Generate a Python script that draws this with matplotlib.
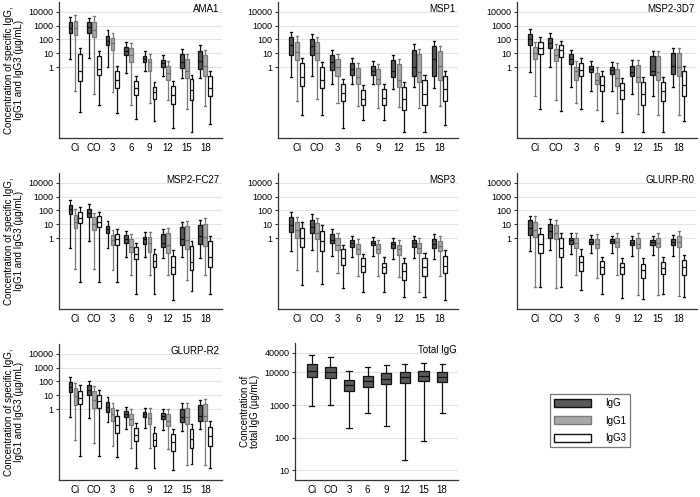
import numpy as np
import matplotlib.pyplot as plt
from matplotlib.patches import Patch
from matplotlib.ticker import FixedLocator, FixedFormatter, NullLocator

plt.rcParams['font.family'] = ['Liberation Sans', 'DejaVu Sans']
plt.rcParams['font.size'] = 6.5

groups = ['Ci', 'CO', '3', '6', '9', '12', '15', '18']

# values are log10(ug/mL): whisker low, Q1, median, Q3, whisker high (one row per group)
AMA1_IgG = [(0.61, 2.45, 2.82, 3.24, 3.63), (0.69, 2.45, 2.87, 3.24, 3.56),
            (0.05, 1.60, 1.91, 2.26, 2.65), (-0.42, 0.86, 1.18, 1.47, 1.84),
            (-0.29, 0.37, 0.61, 0.81, 1.18), (-0.61, 0.00, 0.32, 0.54, 0.91),
            (-0.79, -0.05, 0.37, 0.93, 1.28), (-0.79, -0.12, 0.44, 1.15, 1.60)]
AMA1_IgG1 = [(-1.72, 2.33, 2.82, 3.36, 3.73), (-1.91, 2.16, 2.70, 3.24, 3.68),
             (-1.77, 1.23, 1.72, 2.09, 2.45), (-2.70, 0.37, 0.86, 1.40, 1.72),
             (-2.58, -0.25, 0.37, 0.61, 0.98), (-2.33, -0.91, -0.44, 0.07, 0.42),
             (-3.00, -0.81, -0.25, 0.61, 0.98), (-2.82, -0.61, 0.12, 0.91, 1.23)]
AMA1_IgG3 = [(-3.26, -0.98, -0.25, 0.98, 1.35), (-2.75, -0.54, -0.12, 0.81, 1.18),
             (-3.31, -1.52, -0.91, -0.25, 0.12), (-3.75, -2.01, -1.52, -0.98, -0.61),
             (-3.88, -2.26, -1.77, -1.42, -1.03), (-4.37, -2.65, -2.01, -1.35, -0.98),
             (-4.66, -2.33, -1.67, -0.86, -0.54), (-4.12, -2.09, -1.47, -0.61, -0.25)]

MSP1_IgG = [(-0.69, 0.91, 1.60, 2.16, 2.53), (-0.61, 0.86, 1.52, 2.01, 2.40),
            (-1.23, -0.20, 0.37, 0.91, 1.23), (-1.23, -0.54, -0.12, 0.29, 0.66),
            (-1.18, -0.54, -0.25, 0.12, 0.44), (-1.60, -0.69, -0.29, 0.49, 0.91),
            (-1.42, -0.61, 0.05, 1.23, 1.67), (-1.47, -0.61, 0.61, 1.52, 1.91)]
MSP1_IgG1 = [(-2.40, 0.49, 1.10, 1.84, 2.28), (-2.26, 0.49, 1.06, 1.79, 2.21),
             (-2.58, -0.61, 0.00, 0.56, 0.93), (-2.82, -1.18, -0.69, -0.05, 0.32),
             (-2.94, -1.18, -0.86, -0.12, 0.25), (-2.90, -1.42, -0.93, 0.25, 0.61),
             (-2.94, -1.10, -0.37, 0.93, 1.28), (-2.82, -0.91, 0.12, 1.15, 1.55)]
MSP1_IgG3 = [(-3.44, -1.35, -0.69, 0.29, 0.66), (-3.44, -1.52, -0.93, 0.05, 0.37),
             (-4.37, -2.45, -1.84, -1.18, -0.86), (-3.80, -2.75, -2.26, -1.64, -1.28),
             (-3.80, -2.75, -2.21, -1.60, -1.18), (-4.66, -3.07, -2.26, -1.42, -1.10),
             (-4.66, -2.70, -1.91, -0.91, -0.54), (-4.17, -2.45, -1.60, -0.61, -0.25)]

MSP2_3D7_IgG = [(-0.32, 1.60, 2.01, 2.40, 2.75), (0.05, 1.42, 1.77, 2.13, 2.45),
                (-1.42, 0.25, 0.61, 0.93, 1.23), (-1.72, -0.37, -0.12, 0.12, 0.42),
                (-1.72, -0.49, -0.17, 0.05, 0.37), (-1.96, -0.61, -0.32, 0.12, 0.49),
                (-2.04, -0.54, -0.25, 0.79, 1.15), (-1.42, -0.49, 0.12, 1.03, 1.42)]
MSP2_3D7_IgG1 = [(-2.04, 0.61, 1.03, 1.47, 1.84), (-2.33, 0.42, 0.91, 1.28, 1.64),
                 (-2.58, -0.91, -0.25, 0.05, 0.42), (-3.07, -1.23, -0.91, -0.42, 0.00),
                 (-3.31, -1.35, -0.79, -0.12, 0.29), (-3.39, -1.10, -0.69, 0.17, 0.54),
                 (-3.44, -0.91, -0.32, 0.79, 1.15), (-3.44, -0.66, 0.00, 1.03, 1.42)]
MSP2_3D7_IgG3 = [(-3.02, 0.93, 1.35, 1.84, 2.21), (-3.19, 0.74, 1.23, 1.60, 1.91),
                 (-3.02, -0.66, -0.20, 0.32, 0.69), (-3.88, -1.72, -1.30, -0.66, -0.25),
                 (-4.66, -2.26, -1.67, -1.15, -0.81), (-4.66, -2.70, -1.91, -1.10, -0.69),
                 (-4.66, -2.40, -1.72, -1.06, -0.69), (-3.85, -2.04, -1.28, -0.25, 0.12)]

MSP2_FC27_IgG = [(-0.72, 1.72, 2.08, 2.40, 2.75), (-0.19, 1.51, 1.80, 2.08, 2.44),
                 (-0.72, 0.36, 0.67, 0.91, 1.25), (-1.32, -0.31, -0.05, 0.24, 0.55),
                 (-1.37, -0.43, -0.07, 0.12, 0.43), (-1.39, -0.65, -0.31, 0.29, 0.65),
                 (-1.37, -0.48, -0.07, 0.79, 1.20), (-1.44, -0.41, 0.17, 0.96, 1.32)]
MSP2_FC27_IgG1 = [(-2.20, 0.72, 1.20, 1.68, 2.08), (-2.20, 0.60, 1.01, 1.51, 1.84),
                  (-2.32, -0.48, -0.12, 0.24, 0.60), (-2.63, -0.96, -0.60, -0.07, 0.29),
                  (-2.63, -0.96, -0.36, 0.07, 0.43), (-2.63, -1.03, -0.48, 0.36, 0.72),
                  (-2.99, -0.79, -0.12, 0.91, 1.27), (-2.63, -0.53, 0.07, 1.03, 1.44)]
MSP2_FC27_IgG3 = [(-3.16, 1.08, 1.44, 1.87, 2.23), (-3.16, 0.84, 1.20, 1.60, 1.92),
                  (-3.16, -0.48, -0.07, 0.31, 0.65), (-4.02, -1.51, -1.13, -0.65, -0.31),
                  (-4.02, -2.04, -1.63, -1.15, -0.79), (-4.43, -2.56, -2.04, -1.27, -0.84),
                  (-3.83, -2.32, -1.68, -0.55, -0.19), (-4.02, -2.04, -1.32, -0.19, 0.19)]

MSP3_IgG = [(-0.91, 0.48, 0.96, 1.51, 1.92), (-0.84, 0.36, 0.79, 1.32, 1.75),
            (-1.25, -0.36, -0.12, 0.29, 0.65), (-1.37, -0.60, -0.36, -0.12, 0.17),
            (-1.25, -0.48, -0.31, -0.19, 0.12), (-1.51, -0.72, -0.43, -0.24, 0.05),
            (-1.39, -0.60, -0.36, -0.12, 0.17), (-1.51, -0.72, -0.41, -0.05, 0.31)]
MSP3_IgG1 = [(-2.28, 0.05, 0.60, 1.20, 1.56), (-2.35, -0.07, 0.41, 1.08, 1.44),
             (-2.51, -0.84, -0.48, 0.00, 0.36), (-2.75, -1.15, -0.79, -0.43, -0.05),
             (-2.75, -1.08, -0.79, -0.43, -0.12), (-2.80, -1.20, -0.79, -0.48, -0.12),
             (-3.90, -1.03, -0.72, -0.31, 0.00), (-2.75, -0.89, -0.55, -0.17, 0.17)]
MSP3_IgG3 = [(-3.40, -0.65, 0.00, 0.72, 1.15), (-3.28, -0.89, -0.19, 0.53, 0.96),
             (-3.59, -1.96, -1.44, -0.79, -0.48), (-3.90, -2.44, -1.99, -1.44, -1.13),
             (-3.90, -2.51, -2.08, -1.75, -1.37), (-4.24, -3.04, -2.35, -1.80, -1.39),
             (-4.24, -2.75, -2.04, -1.39, -1.08), (-4.43, -2.51, -1.99, -1.25, -0.84)]

GLURP_R0_IgG = [(-0.90, 0.24, 0.76, 1.28, 1.63), (-0.85, 0.05, 0.52, 0.99, 1.35),
                (-1.14, -0.43, -0.12, 0.05, 0.36), (-1.09, -0.43, -0.24, -0.07, 0.21),
                (-1.09, -0.38, -0.19, -0.07, 0.17), (-1.30, -0.47, -0.31, -0.12, 0.17),
                (-1.18, -0.47, -0.26, -0.12, 0.17), (-1.30, -0.50, -0.26, -0.07, 0.21)]
GLURP_R0_IgG1 = [(-3.55, 0.09, 0.57, 1.18, 1.59), (-3.57, -0.07, 0.40, 0.92, 1.28),
                 (-2.67, -0.71, -0.36, 0.00, 0.36), (-2.86, -0.73, -0.43, -0.07, 0.28),
                 (-2.63, -0.66, -0.24, 0.00, 0.36), (-4.09, -0.73, -0.43, 0.00, 0.36),
                 (-4.09, -0.66, -0.31, 0.00, 0.36), (-4.14, -0.62, -0.26, 0.17, 0.52)]
GLURP_R0_IgG3 = [(-3.50, -1.07, -0.43, 0.33, 0.71), (-3.50, -1.33, -0.73, 0.00, 0.36),
                 (-3.74, -2.37, -1.73, -1.25, -0.78), (-4.05, -2.56, -2.04, -1.66, -1.33),
                 (-4.33, -2.56, -2.08, -1.78, -1.42), (-4.38, -2.84, -2.32, -1.89, -1.44),
                 (-4.05, -2.60, -2.13, -1.68, -1.33), (-4.21, -2.63, -2.04, -1.56, -1.21)]

GLURP_R2_IgG = [(-0.54, 1.25, 1.60, 1.95, 2.31), (-0.64, 1.01, 1.36, 1.72, 2.05),
                (-0.94, -0.19, 0.19, 0.54, 0.89), (-1.41, -0.59, -0.35, -0.16, 0.19),
                (-1.36, -0.59, -0.35, -0.19, 0.12), (-1.48, -0.71, -0.47, -0.28, 0.05),
                (-1.58, -0.89, -0.54, 0.05, 0.42), (-1.46, -0.82, -0.47, 0.28, 0.64)]
GLURP_R2_IgG1 = [(-2.24, 0.31, 0.94, 1.53, 1.88), (-2.40, 0.07, 0.64, 1.34, 1.65),
                 (-2.66, -0.82, -0.35, 0.12, 0.47), (-2.82, -1.13, -0.71, -0.35, 0.00),
                 (-2.78, -1.06, -0.66, -0.24, 0.12), (-2.89, -1.22, -0.82, -0.35, 0.05),
                 (-4.00, -1.06, -0.59, 0.12, 0.47), (-4.00, -0.82, -0.47, 0.35, 0.71)]
GLURP_R2_IgG3 = [(-3.36, 0.35, 0.82, 1.34, 1.72), (-3.36, 0.07, 0.59, 1.06, 1.41),
                 (-3.41, -1.69, -1.13, -0.47, -0.05), (-4.24, -2.28, -1.84, -1.34, -0.99),
                 (-4.24, -2.64, -2.24, -1.69, -1.29), (-4.35, -2.99, -2.35, -1.76, -1.41),
                 (-3.95, -2.82, -2.12, -1.41, -1.06), (-4.24, -2.64, -1.95, -1.29, -0.87)]

Total_IgG = [(2.97, 3.85, 4.05, 4.25, 4.54), (3.00, 3.83, 4.01, 4.18, 4.48),
             (2.29, 3.42, 3.60, 3.78, 4.05), (2.74, 3.56, 3.73, 3.90, 4.16),
             (2.36, 3.65, 3.81, 3.98, 4.23), (1.32, 3.68, 3.86, 4.00, 4.25),
             (1.91, 3.73, 3.90, 4.03, 4.28), (2.77, 3.71, 3.86, 4.00, 4.25)]

W, H = 700, 497
fig = plt.figure(figsize=(7.0, 4.97), dpi=100)


def rect(left, top, right, bottom):
    return [left / W, 1 - bottom / H, (right - left) / W, (bottom - top) / H]


def stats(rows):
    return [dict(whislo=10 ** r[0], q1=10 ** r[1], med=10 ** r[2], q3=10 ** r[3],
                 whishi=10 ** r[4], fliers=[]) for r in rows]


styles = {
    'IgG': dict(face='#5a5a5a', edge='#111111', med='#111111'),
    'IgG1': dict(face='#a9a9a9', edge='#7a7a7a', med='#6a6a6a'),
    'IgG3': dict(face='white', edge='#111111', med='#111111'),
}


def draw_box(ax, rows, offset, width, st):
    pos = np.arange(1, len(groups) + 1) + offset
    ax.bxp(stats(rows), positions=pos, widths=width, patch_artist=True,
           showfliers=False, manage_ticks=False,
           boxprops=dict(facecolor=st['face'], edgecolor=st['edge'], linewidth=0.9),
           whiskerprops=dict(color=st['edge'], linewidth=0.9),
           capprops=dict(color=st['edge'], linewidth=0.9),
           medianprops=dict(color=st['med'], linewidth=0.9))


def style_axes(ax, ticks, labels, ylim, xlim):
    ax.set_yscale('log')
    ax.set_ylim(*ylim)
    ax.set_xlim(*xlim)
    ax.yaxis.set_major_locator(FixedLocator(ticks))
    ax.yaxis.set_major_formatter(FixedFormatter(labels))
    ax.yaxis.set_minor_locator(NullLocator())
    ax.set_xticks(np.arange(1, len(groups) + 1))
    ax.set_xticklabels(groups, fontsize=7)
    ax.tick_params(axis='x', length=0, pad=3.5)
    ax.tick_params(axis='y', length=2.5, width=0.8, pad=1.5, color='#333333')
    for s in ['top', 'right']:
        ax.spines[s].set_visible(False)
    for s in ['left', 'bottom']:
        ax.spines[s].set_color('#333333')
        ax.spines[s].set_linewidth(0.9)
    ax.yaxis.grid(True, color='#e4e4e4', linewidth=0.8)
    ax.set_axisbelow(True)


ylab = 'Concentration of specific IgG,\nIgG1 and IgG3 (\u00b5g/mL)'
panels = [
    ('AMA1', AMA1_IgG, AMA1_IgG1, AMA1_IgG3, rect(58.7, 2, 222, 138), True),
    ('MSP1', MSP1_IgG, MSP1_IgG1, MSP1_IgG3, rect(278.3, 2, 458, 138), False),
    ('MSP2-3D7', MSP2_3D7_IgG, MSP2_3D7_IgG1, MSP2_3D7_IgG3, rect(516.7, 2, 697, 138), False),
    ('MSP2-FC27', MSP2_FC27_IgG, MSP2_FC27_IgG1, MSP2_FC27_IgG3, rect(58.7, 173, 222, 309), True),
    ('MSP3', MSP3_IgG, MSP3_IgG1, MSP3_IgG3, rect(278.3, 173, 458, 309), False),
    ('GLURP-R0', GLURP_R0_IgG, GLURP_R0_IgG1, GLURP_R0_IgG3, rect(516.7, 173, 697, 309), False),
    ('GLURP-R2', GLURP_R2_IgG, GLURP_R2_IgG1, GLURP_R2_IgG3, rect(58.7, 344, 222, 480), True),
]

for name, g, g1, g3, r, left_col in panels:
    ax = fig.add_axes(r)
    draw_box(ax, g, -0.27, 0.2, styles['IgG'])
    draw_box(ax, g1, 0.0, 0.2, styles['IgG1'])
    draw_box(ax, g3, 0.26, 0.2, styles['IgG3'])
    style_axes(ax, [1, 10, 100, 1000, 10000], ['1', '10', '100', '1000', '10000'],
               (10 ** -5.1, 10 ** 4.7), (0.1, 8.9))
    ax.text(0.985, 0.985, name, transform=ax.transAxes, ha='right', va='top', fontsize=7)
    if left_col:
        ax.set_ylabel(ylab, fontsize=7, labelpad=3, linespacing=1.0)

# Total IgG panel
ax = fig.add_axes(rect(295, 343, 458, 480))
draw_box(ax, Total_IgG, 0.0, 0.55, styles['IgG'])
style_axes(ax, [10, 100, 1000, 10000, 40000], ['10', '100', '1000', '10000', '40000'],
           (5, 8e4), (0.1, 8.85))
ax.text(0.995, 0.985, 'Total IgG', transform=ax.transAxes, ha='right', va='top', fontsize=7)
ax.set_ylabel('Concentration of\ntotal IgG (\u00b5g/mL)', fontsize=7, labelpad=3, linespacing=1.0)

# legend
handles = [Patch(facecolor=styles[k]['face'], edgecolor=styles[k]['edge'], label=k)
           for k in ['IgG', 'IgG1', 'IgG3']]
leg = fig.legend(handles=handles, loc='upper left', bbox_to_anchor=(550 / W, 1 - 394 / H),
                 fontsize=7, frameon=True, fancybox=False, edgecolor='#555555',
                 handlelength=3.8, handleheight=0.9, labelspacing=0.75,
                 handletextpad=1.4, borderpad=0.45, borderaxespad=0)
leg.get_frame().set_linewidth(0.9)

fig.savefig('out.png', dpi=100)
